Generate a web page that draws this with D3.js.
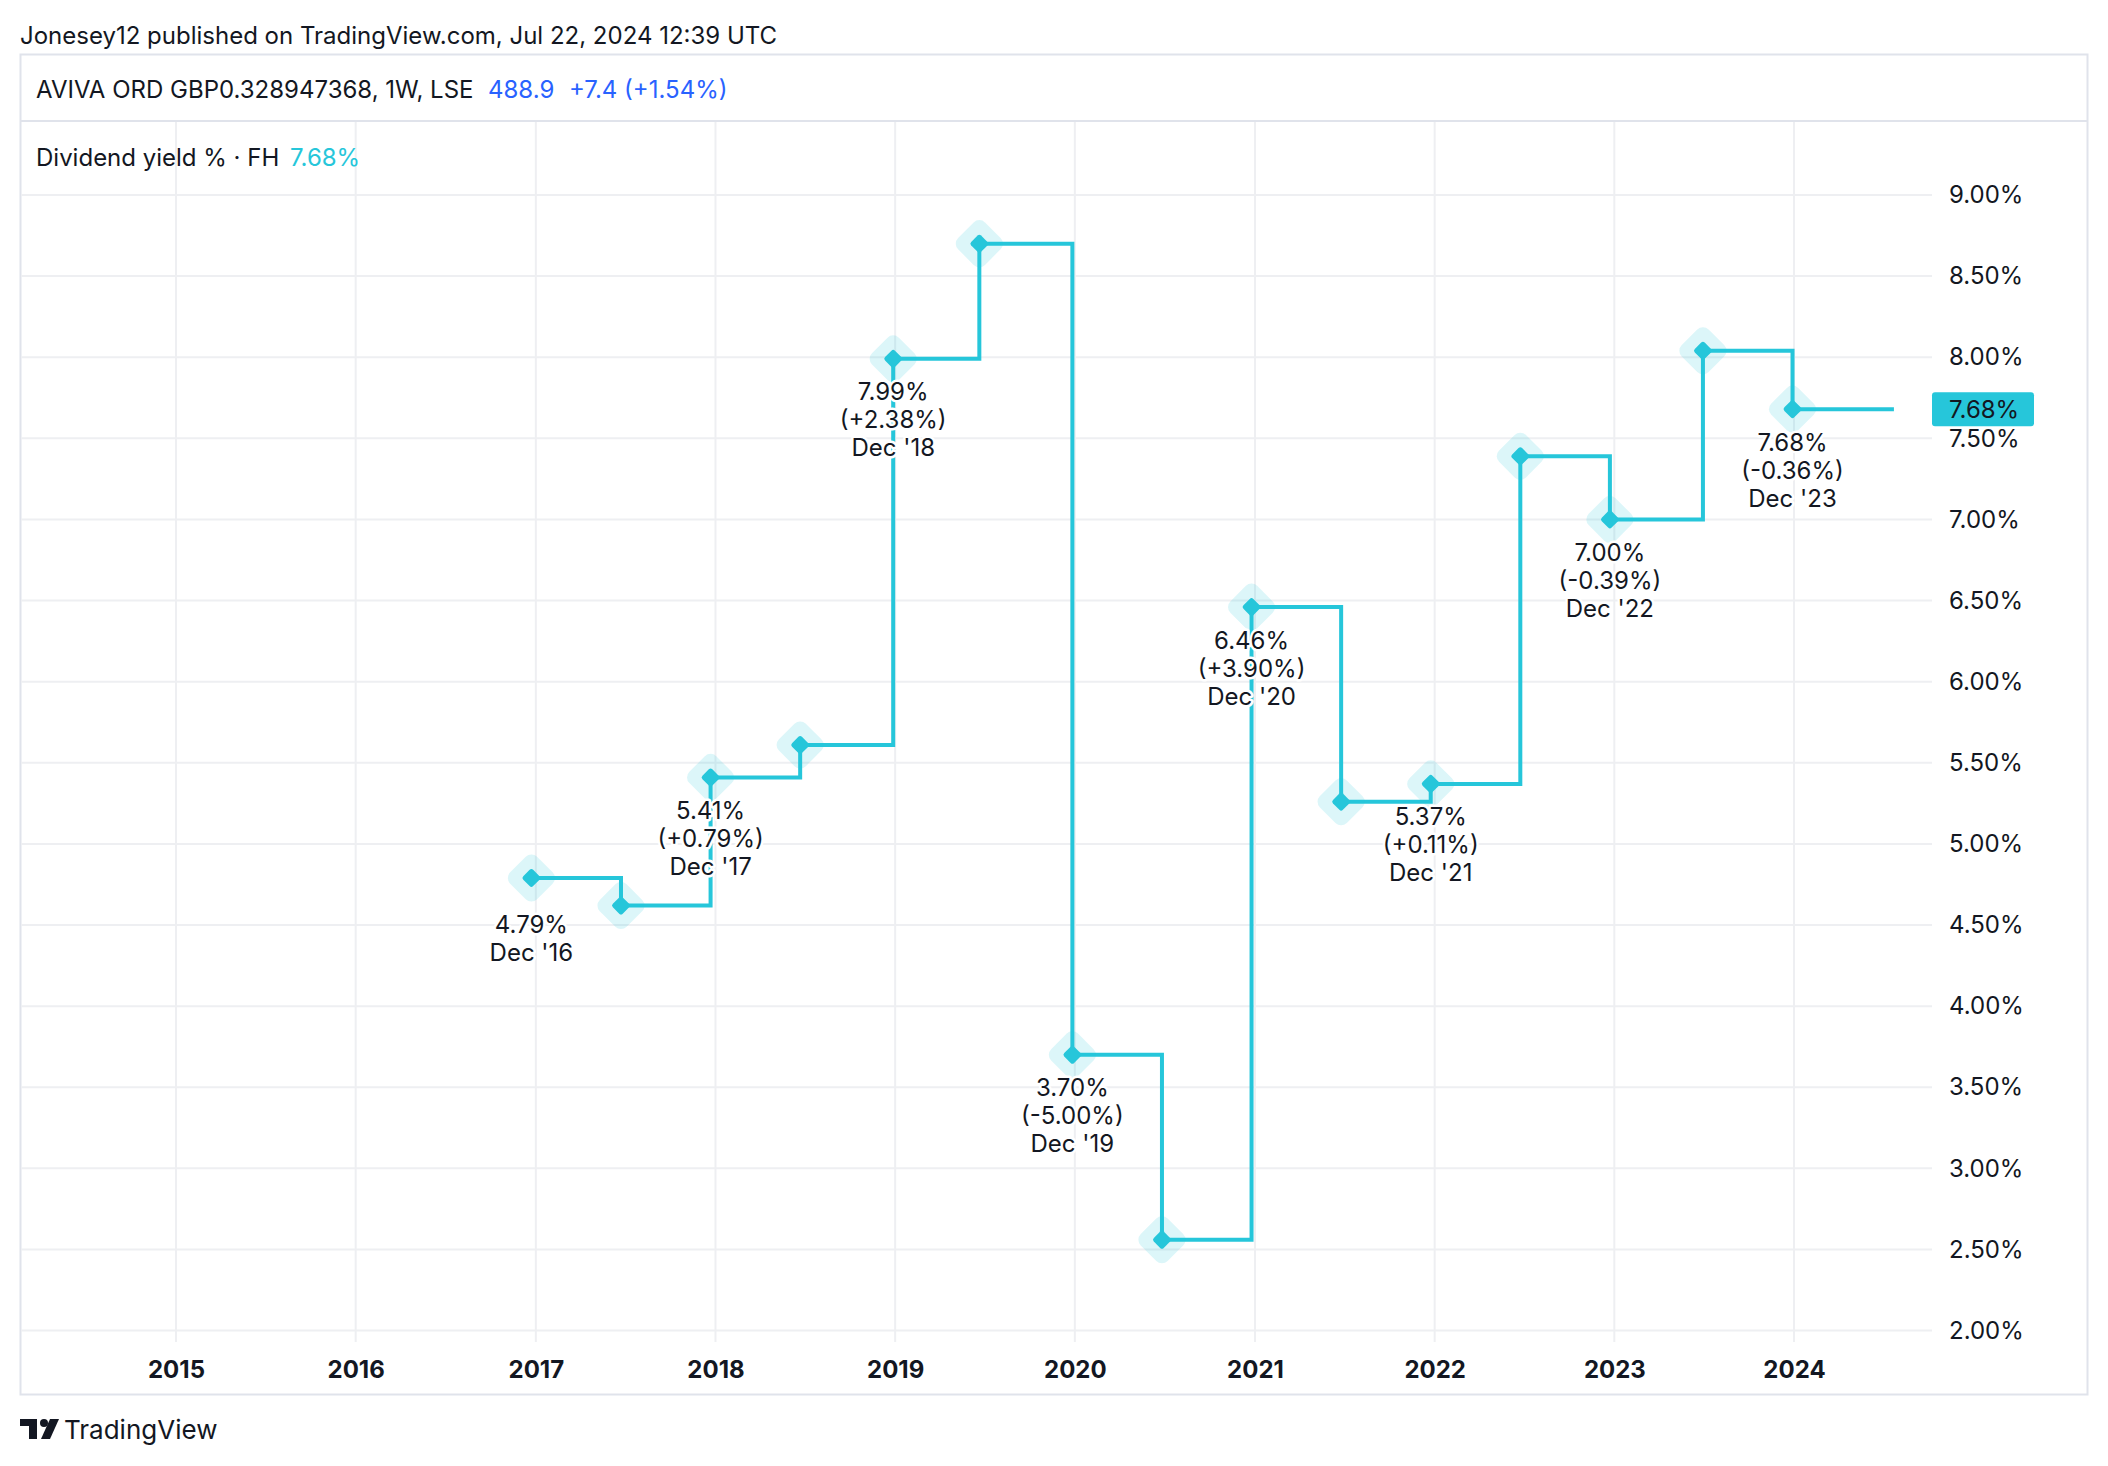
<!DOCTYPE html>
<html>
<head>
<meta charset="utf-8">
<script src="https://cdn.jsdelivr.net/npm/d3@7"></script>
<style>
  body { margin: 0; background: #fff; }
  text { font-family: Inter, "Noto Sans", sans-serif; }
</style>
</head>
<body>
<div id="chart"></div>
<script>
// Dividend yield points (weekly chart, half-yearly reports)
var pointDates = ["2016-12-23", "2017-06-23", "2017-12-22", "2018-06-22", "2018-12-28",
	"2019-06-21", "2019-12-27", "2020-06-26", "2020-12-25", "2021-06-25",
	"2021-12-24", "2022-06-24", "2022-12-23", "2023-06-30", "2023-12-29"];
var yieldValues = [4.79, 4.62, 5.41, 5.61, 7.99, 8.70, 3.70, 2.56, 6.46, 5.26, 5.37, 7.39, 7.00, 8.04, 7.68];
var lastDate = "2024-07-22";
var yearTicks = [2015, 2016, 2017, 2018, 2019, 2020, 2021, 2022, 2023, 2024];
var yTicks = [2, 2.5, 3, 3.5, 4, 4.5, 5, 5.5, 6, 6.5, 7, 7.5, 8, 8.5, 9];

var W = 2108, H = 1466;
var teal = "#26c6da",
	ink = "#131722",
	gridColor = "#eeeff2",
	borderColor = "#e0e3eb";

var parse = d3.timeParse("%Y-%m-%d");

var svg = d3.select("#chart")
	.append("svg")
	.attr("width", W)
	.attr("height", H);

svg.append("rect").attr("width", W).attr("height", H).attr("fill", "#fff");

// scales
var x = d3.scaleTime()
	.domain([new Date(2015, 0, 1), new Date(2024, 0, 1)])
	.range([176, 1794]);
var y = d3.scaleLinear()
	.domain([2, 9])
	.range([1330.6, 195]);

// header
svg.append("text")
	.attr("x", 20).attr("y", 35)
	.attr("dominant-baseline", "central")
	.attr("font-size", 24)
	.attr("fill", ink)
	.text("Jonesey12 published on TradingView.com, Jul 22, 2024 12:39 UTC");

// panel frame
svg.append("rect")
	.attr("x", 20.5).attr("y", 54.5)
	.attr("width", 2067).attr("height", 1340)
	.attr("fill", "none")
	.attr("stroke", borderColor)
	.attr("stroke-width", 2);
svg.append("line")
	.attr("x1", 20).attr("x2", 2088)
	.attr("y1", 121).attr("y2", 121)
	.attr("stroke", borderColor)
	.attr("stroke-width", 2);

// grid
svg.append("g").selectAll("line")
	.data(yearTicks)
	.enter().append("line")
	.attr("x1", function(d) { return x(new Date(d, 0, 1)); })
	.attr("x2", function(d) { return x(new Date(d, 0, 1)); })
	.attr("y1", 122).attr("y2", 1342)
	.attr("stroke", gridColor)
	.attr("stroke-width", 2);

svg.append("g").selectAll("line")
	.data(yTicks)
	.enter().append("line")
	.attr("x1", 21).attr("x2", 1932)
	.attr("y1", function(d) { return y(d); })
	.attr("y2", function(d) { return y(d); })
	.attr("stroke", gridColor)
	.attr("stroke-width", 2);

// x axis labels
var xAxis = d3.axisBottom(x)
	.tickValues(yearTicks.map(function(d) { return new Date(d, 0, 1); }))
	.tickFormat(d3.timeFormat("%Y"))
	.tickSize(0);
var gx = svg.append("g")
	.attr("transform", "translate(0,1358)")
	.call(xAxis);
gx.select(".domain").remove();
gx.selectAll("text")
	.attr("font-family", "Inter, sans-serif")
	.attr("font-size", 24)
	.attr("font-weight", 700)
	.attr("fill", ink);

// y axis labels
var yAxis = d3.axisRight(y)
	.tickValues(yTicks)
	.tickFormat(function(d) { return d.toFixed(2) + "%"; })
	.tickSize(0);
var gy = svg.append("g")
	.attr("transform", "translate(1949,0)")
	.call(yAxis);
gy.select(".domain").remove();
gy.selectAll("text")
	.attr("x", 0)
	.attr("font-family", "Inter, sans-serif")
	.attr("font-size", 24)
	.attr("fill", ink);

// step line data
var pts = pointDates.map(function(d, i) {
	return { date: parse(d), value: yieldValues[i] };
});
var lineData = pts.concat([{ date: parse(lastDate), value: yieldValues[yieldValues.length - 1] }]);

var line = d3.line()
	.x(function(d) { return x(d.date); })
	.y(function(d) { return y(d.value); })
	.curve(d3.curveStepAfter);

svg.append("path")
	.datum(lineData)
	.attr("d", line)
	.attr("fill", "none")
	.attr("stroke", teal)
	.attr("stroke-width", 4);

// markers: soft halo + small diamond
var marks = svg.append("g").selectAll("g")
	.data(pts)
	.enter().append("g")
	.attr("transform", function(d) { return "translate(" + x(d.date) + "," + y(d.value) + ") rotate(45)"; });
marks.append("rect")
	.attr("x", -19).attr("y", -19)
	.attr("width", 38).attr("height", 38)
	.attr("rx", 8)
	.attr("fill", teal)
	.attr("fill-opacity", 0.16);
marks.append("rect")
	.attr("x", -7).attr("y", -7)
	.attr("width", 14).attr("height", 14)
	.attr("rx", 2.5)
	.attr("fill", teal);

// labels under December points
var labelData = [];
pts.forEach(function(d, i) {
	if (d.date.getMonth() !== 11) return;
	var lines = [d.value.toFixed(2) + "%"];
	if (i > 0) {
		var ch = d.value - pts[i - 1].value;
		lines.push("(" + (ch >= 0 ? "+" : "") + ch.toFixed(2) + "%)");
	}
	lines.push("Dec '" + d3.timeFormat("%y")(d.date));
	labelData.push({ x: x(d.date), y: y(d.value), lines: lines });
});

var labels = svg.append("g").selectAll("text")
	.data(labelData)
	.enter().append("text")
	.attr("text-anchor", "middle")
	.attr("font-size", 24)
	.attr("fill", ink)
	.attr("stroke", "#fff")
	.attr("stroke-width", 5)
	.attr("stroke-linejoin", "round")
	.attr("paint-order", "stroke");
labels.selectAll("tspan")
	.data(function(d) {
		var off = d.lines.length === 2 ? 47 : 33;
		return d.lines.map(function(l, k) { return { x: d.x, y: d.y + off + k * 28, t: l }; });
	})
	.enter().append("tspan")
	.attr("x", function(d) { return d.x; })
	.attr("y", function(d) { return d.y; })
	.attr("dominant-baseline", "central")
	.text(function(d) { return d.t; });

// last value tag on the price scale
var lastY = y(yieldValues[yieldValues.length - 1]);
svg.append("rect")
	.attr("x", 1932).attr("y", lastY - 17)
	.attr("width", 102).attr("height", 34)
	.attr("rx", 3)
	.attr("fill", teal);
svg.append("text")
	.attr("x", 1949).attr("y", lastY)
	.attr("dominant-baseline", "central")
	.attr("font-size", 24)
	.attr("fill", ink)
	.text(yieldValues[yieldValues.length - 1].toFixed(2) + "%");

// legend rows
var leg1 = svg.append("text")
	.attr("x", 36).attr("y", 89)
	.attr("dominant-baseline", "central")
	.attr("font-size", 24)
	.attr("fill", ink);
leg1.append("tspan").text("AVIVA ORD GBP0.328947368, 1W, LSE");
leg1.append("tspan").attr("x", 488).attr("fill", "#2962ff").text("488.9");
leg1.append("tspan").attr("x", 569).attr("fill", "#2962ff").text("+7.4 (+1.54%)");

var leg2 = svg.append("text")
	.attr("x", 36).attr("y", 157)
	.attr("dominant-baseline", "central")
	.attr("font-size", 24)
	.attr("fill", ink);
leg2.append("tspan").text("Dividend yield % \u00b7 FH");
leg2.append("tspan").attr("x", 290).attr("fill", teal).text(yieldValues[yieldValues.length - 1].toFixed(2) + "%");

// TradingView logo
var logo = svg.append("g").attr("transform", "translate(20,1419)").attr("fill", ink);
logo.append("path").attr("d", "M0 0 H17 V20 H9 V7 H0 Z");
logo.append("circle").attr("cx", 24).attr("cy", 4).attr("r", 4);
logo.append("path").attr("d", "M30 0 H39 L30 20 H21 Z");
svg.append("text")
	.attr("x", 64).attr("y", 1429)
	.attr("dominant-baseline", "central")
	.attr("font-size", 26)
	.attr("fill", ink)
	.text("TradingView");
</script>
</body>
</html>
